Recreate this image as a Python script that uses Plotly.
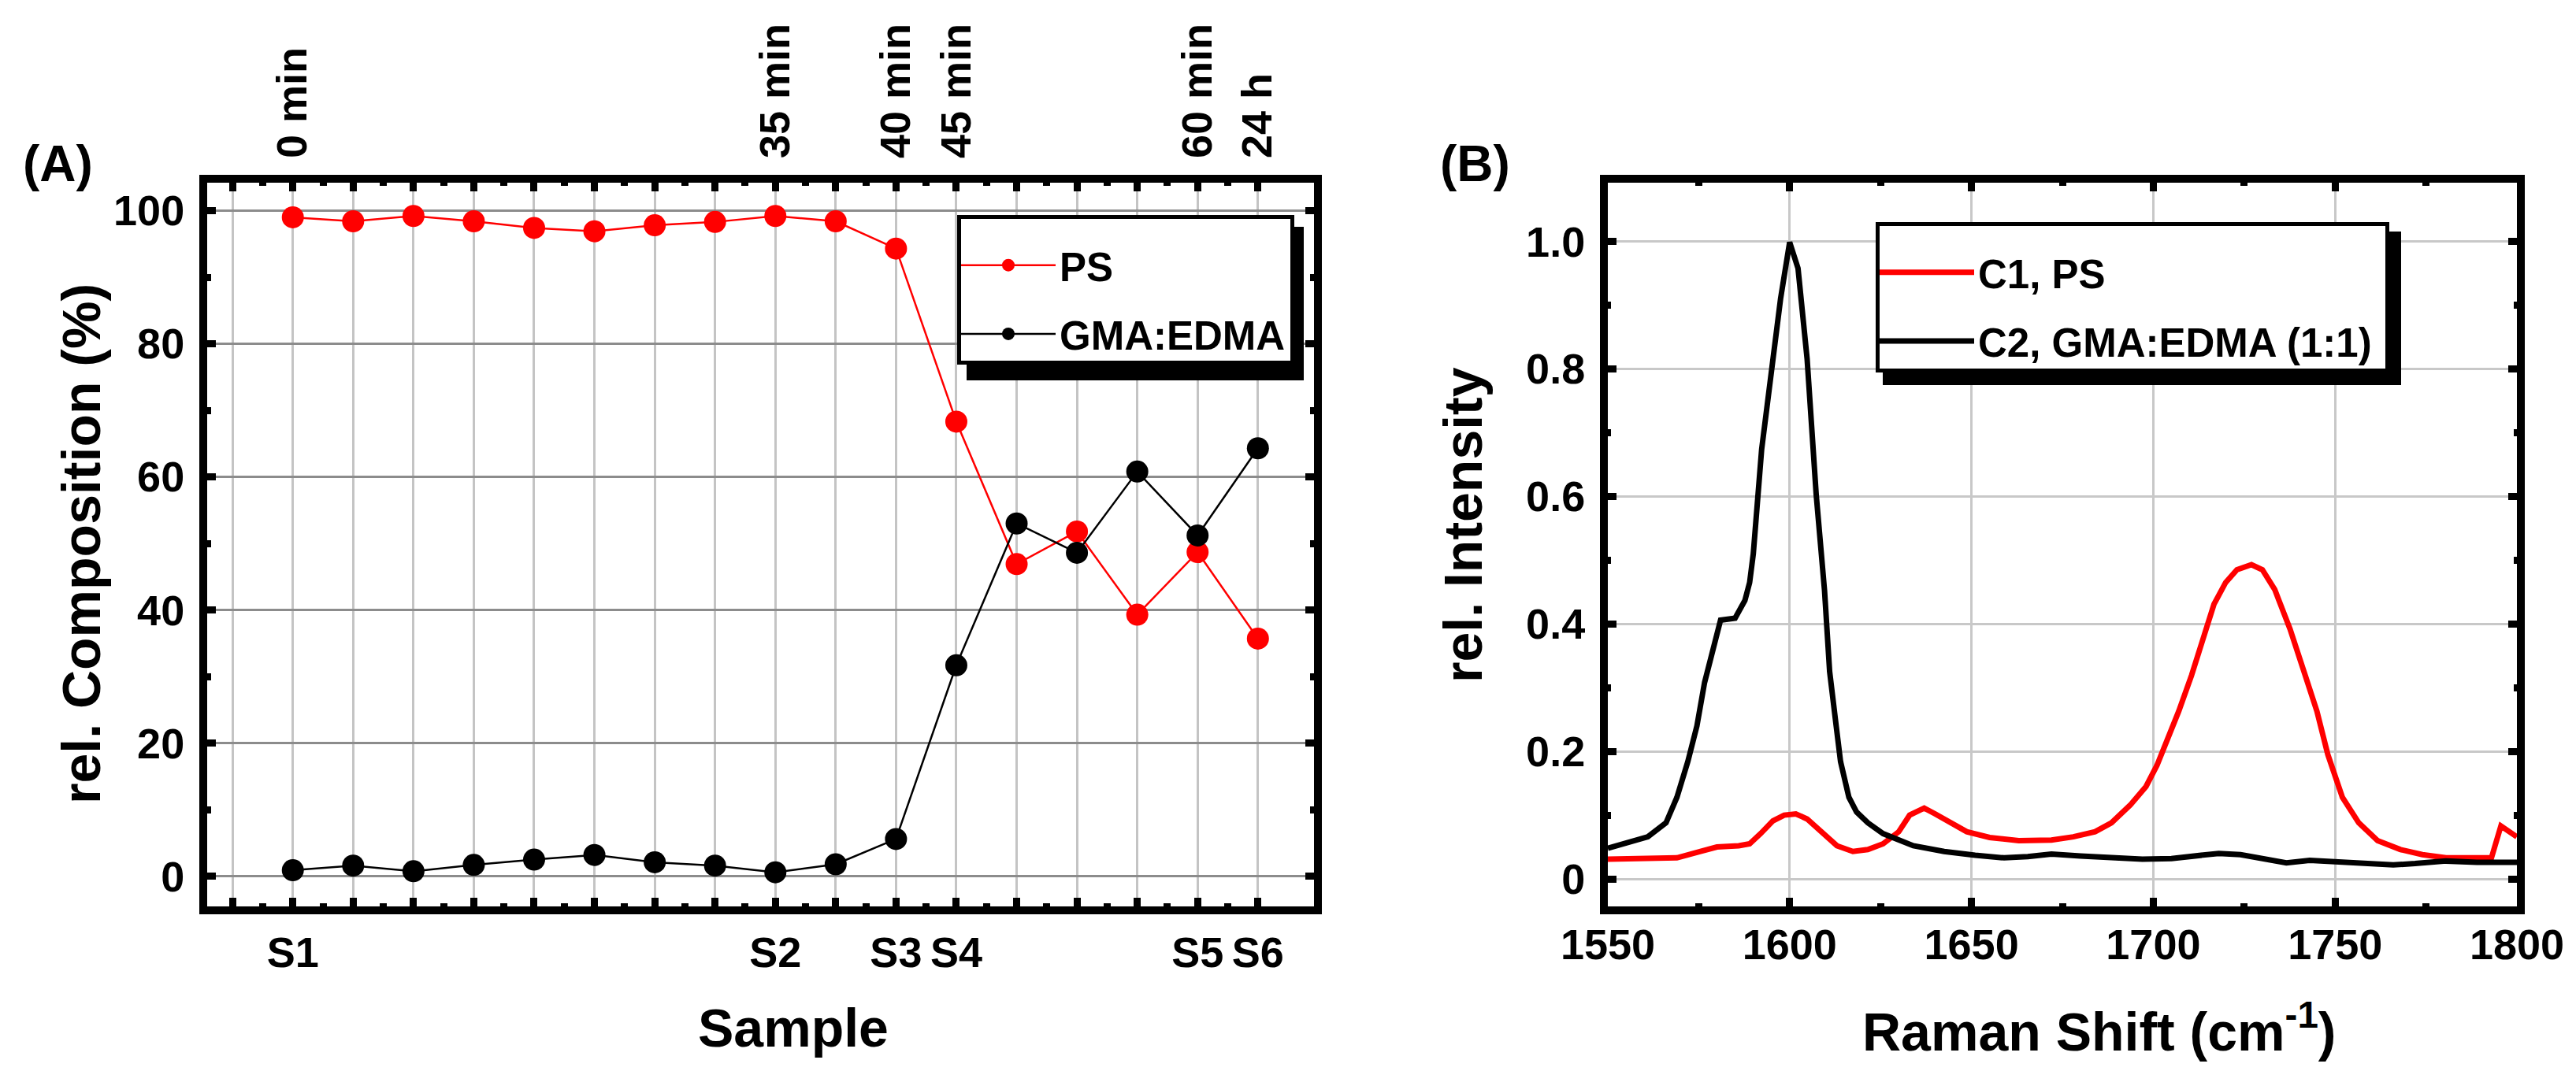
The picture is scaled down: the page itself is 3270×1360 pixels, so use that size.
import plotly.graph_objects as go

# ---------------- data: panel A ----------------
sample_pos = list(range(1, 18))
ps_values = [99.0, 98.4, 99.2, 98.4, 97.4, 96.9, 97.8, 98.3, 99.2, 98.4,
             94.3, 68.3, 46.9, 51.8, 39.3, 48.7, 35.7]
gma_values = [0.9, 1.6, 0.75, 1.7, 2.5, 3.2, 2.1, 1.6, 0.6, 1.8,
              5.6, 31.7, 53.0, 48.6, 60.8, 51.2, 64.3]
tick_pos = list(range(0, 18))
sample_labels = ["", "S1", "", "", "", "", "", "", "", "S2", "", "S3", "S4",
                 "", "", "", "S5", "S6"]
time_labels = ["", "0 min", "", "", "", "", "", "", "", "35 min", "",
               "40 min", "45 min", "", "", "", "60 min", "24 h"]
comp_ticks = [0, 20, 40, 60, 80, 100]

# ---------------- data: panel B ----------------
c2_x = [1550, 1561, 1566, 1569, 1572, 1574.5, 1576.6, 1580, 1581, 1585, 1587.7,
        1589, 1590, 1592.3, 1595.4, 1597.5, 1600, 1602.3, 1604.8, 1607.3, 1609.6,
        1611, 1612.8, 1614, 1616.3, 1618.4, 1621.5, 1625.7, 1634, 1642.5, 1651,
        1659, 1665.5, 1672, 1680, 1688.5, 1697, 1705, 1711.5, 1718, 1724, 1730,
        1736.6, 1743, 1751, 1759.6, 1766, 1772, 1780.5, 1789, 1800]
c2_y = [0.048, 0.066, 0.088, 0.128, 0.184, 0.24, 0.308, 0.381, 0.406, 0.409, 0.437,
        0.465, 0.51, 0.674, 0.816, 0.91, 0.999, 0.958, 0.816, 0.603, 0.452,
        0.325, 0.24, 0.184, 0.128, 0.105, 0.088, 0.071, 0.052, 0.043, 0.037,
        0.033, 0.035, 0.039, 0.036, 0.033, 0.031, 0.032, 0.037, 0.040, 0.038, 0.032,
        0.025, 0.029, 0.026, 0.024, 0.022, 0.024, 0.028, 0.026, 0.026]
c1_x = [1550, 1561, 1569, 1575.5, 1580, 1586, 1589, 1592, 1595.4, 1598.5, 1601.7,
        1604.8, 1609, 1613, 1617.4, 1621.5, 1625.7, 1630, 1633, 1637, 1640, 1644.6,
        1648.7, 1655, 1663, 1672, 1678, 1684, 1688.5, 1693.7, 1698, 1701, 1704,
        1707, 1710.5, 1713.6, 1716.7, 1719.9, 1723, 1727, 1730, 1733.4, 1737.6,
        1741.8, 1745, 1748, 1752, 1756.5, 1761.7, 1768, 1774, 1780.5, 1789, 1793,
        1795.6, 1797, 1800]
c1_y = [0.031, 0.031, 0.033, 0.043, 0.050, 0.052, 0.055, 0.071, 0.091, 0.100, 0.102,
        0.094, 0.071, 0.052, 0.043, 0.046, 0.055, 0.074, 0.100, 0.111, 0.102, 0.088,
        0.074, 0.065, 0.060, 0.061, 0.066, 0.074, 0.088, 0.116, 0.145, 0.178, 0.218,
        0.263, 0.319, 0.375, 0.431, 0.465, 0.485, 0.493, 0.485, 0.454, 0.392,
        0.319, 0.263, 0.195, 0.128, 0.088, 0.060, 0.046, 0.038, 0.033, 0.033, 0.033,
        0.083, 0.077, 0.066]
int_ticks = [0, 0.2, 0.4, 0.6, 0.8, 1.0]
int_labels = ["0", "0.2", "0.4", "0.6", "0.8", "1.0"]
raman_ticks = [1550, 1600, 1650, 1700, 1750, 1800]

# labelled positions only (no empty label texts)
s_pos = [p for p, t in zip(tick_pos, sample_labels) if t]
s_txt = [t for t in sample_labels if t]
t_pos = [p for p, t in zip(tick_pos, time_labels) if t]
t_txt = [t for t in time_labels if t]

# ---------------- geometry helpers ----------------
W, H = 3270, 1360
FONT = "Liberation Sans, Arial, sans-serif"


def fx(p):
    return p / W


def fy(p):
    return 1 - p / H


RED = "#ff0000"
BLACK = "#000000"
XR = [-0.42, 17.93]

fig = go.Figure()

fig.add_trace(go.Scatter(
    x=sample_pos, y=ps_values, name="PS", mode="lines+markers",
    line=dict(color=RED, width=2.5), marker=dict(color=RED, size=28),
    xaxis="x", yaxis="y", legend="legend", legendgroup="a1"))
fig.add_trace(go.Scatter(
    x=sample_pos, y=gma_values, name="GMA:EDMA", mode="lines+markers",
    line=dict(color=BLACK, width=2.5), marker=dict(color=BLACK, size=28),
    xaxis="x", yaxis="y", legend="legend", legendgroup="a2"))
# invisible carrier traces so that the label axes are drawn
for ax in ("x3", "x4"):
    fig.add_trace(go.Scatter(
        x=sample_pos, y=ps_values, mode="none", showlegend=False,
        hoverinfo="skip", xaxis=ax, yaxis="y"))

fig.add_trace(go.Scatter(
    x=c1_x, y=c1_y, name="C1, PS", mode="lines",
    line=dict(color=RED, width=7), xaxis="x2", yaxis="y2",
    legend="legend2", legendgroup="b1"))
fig.add_trace(go.Scatter(
    x=c2_x, y=c2_y, name="C2, GMA:EDMA (1:1)", mode="lines",
    line=dict(color=BLACK, width=7), xaxis="x2", yaxis="y2",
    legend="legend2", legendgroup="b2"))

tickfont = dict(family=FONT, size=54, color="black", weight="bold")
ydom = [fy(1151), fy(232)]

common = dict(showline=True, linewidth=10, linecolor="black", mirror="ticks",
              ticks="inside", ticklen=11, tickwidth=9, tickcolor="black",
              zeroline=False, tickfont=tickfont, automargin=False)
labelaxis = dict(overlaying="x", anchor="y", range=XR, tickmode="array",
                 showgrid=False, showline=False, ticks="", zeroline=False,
                 tickfont=tickfont, automargin=False)

legfont = dict(family=FONT, size=51, color="black", weight="bold")

fig.update_layout(
    width=W, height=H, margin=dict(l=0, r=0, t=0, b=0, autoexpand=False),
    paper_bgcolor="white", plot_bgcolor="white", showlegend=True,
    xaxis=dict(domain=[fx(263), fx(1668)], range=XR, anchor="y",
               tickmode="array", tickvals=tick_pos, showticklabels=False,
               showgrid=True, gridcolor="#c4c4c4", gridwidth=2.5,
               minor=dict(tickmode="array",
                          tickvals=[p + 0.5 for p in tick_pos[:-1]],
                          ticks="inside", ticklen=4, tickwidth=9,
                          tickcolor="black", showgrid=False),
               **common),
    xaxis4=dict(side="bottom", tickvals=s_pos, ticktext=s_txt,
                ticklabelstandoff=22, **labelaxis),
    xaxis3=dict(side="top", tickvals=t_pos, ticktext=t_txt, tickangle=-90,
                ticklabelstandoff=30, **labelaxis),
    yaxis=dict(domain=ydom, range=[-4.53, 104.2], anchor="x",
               tickmode="array", tickvals=comp_ticks,
               showgrid=True, gridcolor="#8c8c8c", gridwidth=2.5,
               ticklabelstandoff=8,
               minor=dict(dtick=10, tick0=10, ticks="inside", ticklen=5,
                          tickwidth=9, tickcolor="black", showgrid=False),
               **common),
    xaxis2=dict(domain=[fx(2041), fx(3195)], range=[1550, 1800], anchor="y2",
                tickmode="array", tickvals=raman_ticks,
                showgrid=True, gridcolor="#c8c8c8", gridwidth=2.5,
                ticklabelstandoff=-8,
                minor=dict(dtick=25, tick0=1575, ticks="inside", ticklen=4,
                           tickwidth=9, tickcolor="black", showgrid=False),
                **common),
    yaxis2=dict(domain=ydom, range=[-0.0432, 1.0923], anchor="x2",
                tickmode="array", tickvals=int_ticks, ticktext=int_labels,
                showgrid=True, gridcolor="#c8c8c8", gridwidth=2.5,
                ticklabelstandoff=8,
                minor=dict(dtick=0.1, tick0=0.1, ticks="inside", ticklen=4,
                           tickwidth=9, tickcolor="black", showgrid=False),
                **common),
    legend=dict(x=fx(1215), y=fy(297), xanchor="left", yanchor="top",
                bgcolor="rgba(0,0,0,0)", borderwidth=0,
                font=legfont, tracegroupgap=18, itemwidth=120),
    legend2=dict(x=fx(2381), y=fy(306), xanchor="left", yanchor="top",
                 bgcolor="rgba(0,0,0,0)", borderwidth=0,
                 font=legfont, tracegroupgap=18, itemwidth=120),
)

# legend frames with drop shadows (drawn as shapes; legends sit on top)
for (bx0, by0, bx1, by1), (sx0, sy0, sx1, sy1) in [
        ((1215, 273, 1643, 463), (1227, 288, 1655, 483)),
        ((2381, 282, 3033, 473), (2390, 294, 3048, 489))]:
    fig.add_shape(type="rect", xref="paper", yref="paper", layer="above",
                  x0=fx(sx0), x1=fx(sx1), y0=fy(sy1), y1=fy(sy0),
                  fillcolor="black", line=dict(width=0))
    fig.add_shape(type="rect", xref="paper", yref="paper", layer="above",
                  x0=fx(bx0 + 2.5), x1=fx(bx1 - 2.5),
                  y0=fy(by1 - 2.5), y1=fy(by0 + 2.5),
                  fillcolor="white", line=dict(color="black", width=5))

titlefont = dict(family=FONT, size=68, color="black", weight="bold")
labfont = dict(family=FONT, size=64, color="black", weight="bold")

fig.add_annotation(text="Sample", x=fx(1007), y=fy(1305), xref="paper", yref="paper",
                   showarrow=False, font=titlefont, xanchor="center", yanchor="middle")
fig.add_annotation(text="Raman Shift (cm<sup>-1</sup>)", x=fx(2665), y=fy(1305),
                   xref="paper", yref="paper", showarrow=False, font=titlefont,
                   xanchor="center", yanchor="middle")
fig.add_annotation(text="rel. Composition (%)", x=fx(103), y=fy(691), xref="paper",
                   yref="paper", showarrow=False, font=titlefont, textangle=-90,
                   xanchor="center", yanchor="middle")
fig.add_annotation(text="rel. Intensity", x=fx(1857), y=fy(666), xref="paper",
                   yref="paper", showarrow=False, font=titlefont, textangle=-90,
                   xanchor="center", yanchor="middle")
fig.add_annotation(text="(A)", x=fx(73), y=fy(208), xref="paper", yref="paper",
                   showarrow=False, font=labfont, xanchor="center", yanchor="middle")
fig.add_annotation(text="(B)", x=fx(1872), y=fy(208), xref="paper", yref="paper",
                   showarrow=False, font=labfont, xanchor="center", yanchor="middle")

fig.write_html("out.html")
